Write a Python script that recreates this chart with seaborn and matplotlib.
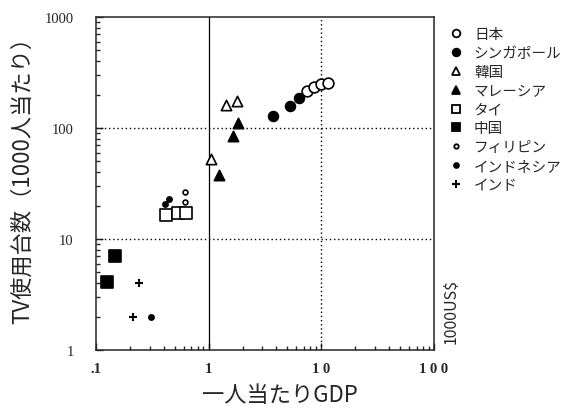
import numpy as np
import pandas as pd
import matplotlib
matplotlib.use("Agg")
import matplotlib.pyplot as plt
import seaborn as sns
from matplotlib.lines import Line2D

# GDP per capita (1000 US$) and TV sets per 1000 people
japan_x = [7.5, 8.7, 10.0, 11.5]
japan_y = [217, 235, 250, 256]
singapore_x = [3.74, 5.3, 6.4]
singapore_y = [127, 159, 188]
korea_x = [1.05, 1.43, 1.79]
korea_y = [53, 162, 176]
malaysia_x = [1.24, 1.65, 1.83]
malaysia_y = [38, 85, 112]
thai_x = [0.42, 0.536, 0.63]
thai_y = [16.3, 17, 17]
china_x = [0.125, 0.148]
china_y = [4.1, 7.0]
phil_x = [0.62, 0.62]
phil_y = [21.4, 26.3]
indo_x = [0.31, 0.41, 0.445]
indo_y = [2.0, 20.5, 22.7]
india_x = [0.213, 0.241]
india_y = [2.0, 4.0]

countries = ["日本", "シンガポール", "韓国", "マレーシア", "タイ", "中国",
             "フィリピン", "インドネシア", "インド"]
xs = [japan_x, singapore_x, korea_x, malaysia_x, thai_x, china_x, phil_x, indo_x, india_x]
ys = [japan_y, singapore_y, korea_y, malaysia_y, thai_y, china_y, phil_y, indo_y, india_y]

# marker, filled?, scatter size, legend size
styles = {
    "日本": ("o", False, 60, 5.5),
    "シンガポール": ("o", True, 50, 5.5),
    "韓国": ("^", False, 55, 5.5),
    "マレーシア": ("^", True, 55, 5.5),
    "タイ": ("s", False, 65, 5.5),
    "中国": ("s", True, 70, 5.5),
    "フィリピン": ("o", False, 12, 3.2),
    "インドネシア": ("o", True, 14, 3.5),
    "インド": ("+", True, 40, 5.5),
}

rows = []
for name, xv, yv in zip(countries, xs, ys):
    for a, b in zip(xv, yv):
        rows.append({"country": name, "gdp": a, "tv": b})
df = pd.DataFrame(rows)

sns.set_style("ticks")
plt.rcParams["font.family"] = ["Noto Sans CJK JP", "DejaVu Sans"]

fig = plt.figure(figsize=(5.68, 4.10), dpi=100)
ax = fig.add_axes([0.169, 0.144, 0.595, 0.812])

for name in countries:
    m, filled, s, _ = styles[name]
    sub = df[df["country"] == name]
    if m == "+":
        sns.scatterplot(data=sub, x="gdp", y="tv", marker="+", s=s, color="black",
                        linewidth=1.5, ax=ax, legend=False)
    else:
        sns.scatterplot(data=sub, x="gdp", y="tv", marker=m, s=s,
                        facecolor="black" if filled else "white",
                        edgecolor="black", linewidth=1.2, ax=ax, legend=False, zorder=3)

ax.set_xscale("log")
ax.set_yscale("log")
ax.set_xlim(0.1, 100)
ax.set_ylim(1, 1000)

# grid lines
ax.axvline(1, color="black", lw=0.9, zorder=1)
ax.axvline(10, color="black", lw=1.0, ls=(0, (1, 2)), zorder=1)
for yv in [10, 100]:
    ax.axhline(yv, color="black", lw=1.0, ls=(0, (1, 2)), zorder=1)

for sp in ax.spines.values():
    sp.set_linewidth(1.1)
    sp.set_visible(True)

ax.set_xticks([0.1, 1, 10, 100])
ax.set_xticklabels([".1", "1", "1 0", "1 0 0"], family="Liberation Serif",
                   fontsize=10.5, fontweight="bold")
ax.set_yticks([1, 10, 100, 1000])
ax.set_yticklabels(["1", "10", "100", "1000"], family="Liberation Serif", fontsize=10.5)
ax.tick_params(axis="both", which="both", direction="in", width=1)
ax.tick_params(which="major", length=5)
ax.tick_params(which="minor", length=3)
ax.tick_params(axis="x", pad=9)
ax.tick_params(axis="y", pad=16)

ax.set_xlabel("一人当たりGDP", fontsize=16)
ax.set_ylabel("TV使用台数（1000人当たり）", fontsize=16)
ax.xaxis.set_label_coords(0.545, -0.1)
ax.yaxis.set_label_coords(-0.185, 0.53)

fig.text(0.795, 0.162, "1000US$", rotation=90, fontsize=11.5, ha="center", va="bottom")

handles = []
for name in countries:
    m, filled, s, ms = styles[name]
    if m == "+":
        h = Line2D([], [], ls="none", marker="+", color="black", markersize=6, markeredgewidth=1.5)
    else:
        h = Line2D([], [], ls="none", marker=m, markersize=ms,
                   markerfacecolor="black" if filled else "white",
                   markeredgecolor="black", markeredgewidth=1.3)
    handles.append(h)

fig.legend(handles, countries, loc="upper left", bbox_to_anchor=(0.783, 0.945),
           frameon=False, fontsize=10.5, handletextpad=0.8, labelspacing=0.33,
           handlelength=0.8, borderaxespad=0)

fig.savefig("out.png", dpi=100)
